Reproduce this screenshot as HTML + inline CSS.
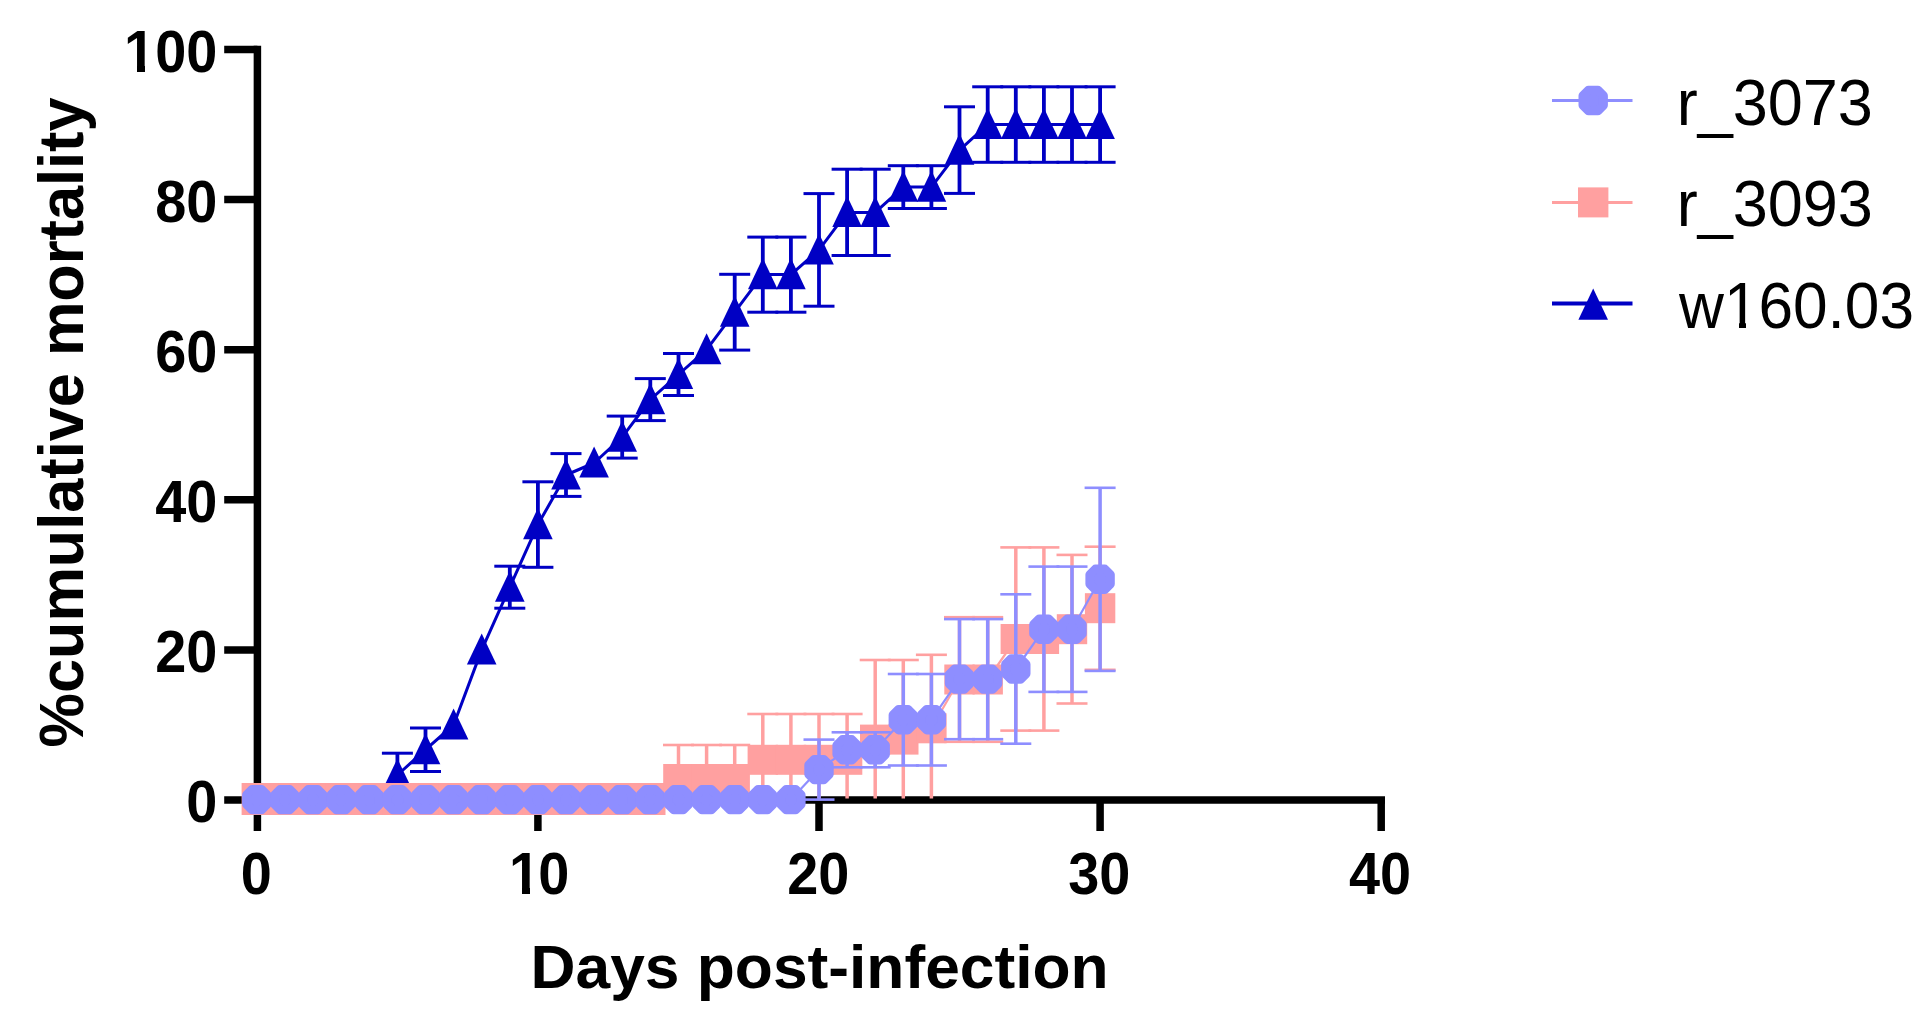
<!DOCTYPE html>
<html><head><meta charset="utf-8"><title>Cumulative mortality</title>
<style>html,body{margin:0;padding:0;background:#fff;}body{width:1932px;height:1020px;overflow:hidden;}svg{display:block;filter:blur(0.55px);}text{font-family:"Liberation Sans",Arial,Helvetica,sans-serif;fill:#000;}.b{font-weight:bold;font-size:60px;}.t{font-weight:bold;font-size:59.6px;}.lg{font-size:64px;}</style></head><body>
<svg width="1932" height="1020" viewBox="0 0 1932 1020">
<rect width="1932" height="1020" fill="#fff"/>
<g stroke="#000" stroke-width="7.5" fill="none">
<line x1="257.4" y1="45.75" x2="257.4" y2="831"/>
<line x1="224.2" y1="800.0" x2="1385" y2="800.0"/>
<line x1="224.2" y1="649.90" x2="257.4" y2="649.90"/>
<line x1="224.2" y1="499.80" x2="257.4" y2="499.80"/>
<line x1="224.2" y1="349.70" x2="257.4" y2="349.70"/>
<line x1="224.2" y1="199.60" x2="257.4" y2="199.60"/>
<line x1="224.2" y1="49.50" x2="257.4" y2="49.50"/>
<line x1="537.90" y1="800.0" x2="537.90" y2="831"/>
<line x1="819.00" y1="800.0" x2="819.00" y2="831"/>
<line x1="1100.10" y1="800.0" x2="1100.10" y2="831"/>
<line x1="1381.20" y1="800.0" x2="1381.20" y2="831"/>
</g>
<text class="t" transform="translate(217.3 822.0) scale(0.937 1)" text-anchor="end">0</text>
<text class="t" transform="translate(217.3 671.9) scale(0.937 1)" text-anchor="end">20</text>
<text class="t" transform="translate(217.3 521.8) scale(0.937 1)" text-anchor="end">40</text>
<text class="t" transform="translate(217.3 371.7) scale(0.937 1)" text-anchor="end">60</text>
<text class="t" transform="translate(217.3 221.6) scale(0.937 1)" text-anchor="end">80</text>
<text class="t" transform="translate(217.3 71.5) scale(0.937 1)" text-anchor="end">100</text>
<text class="t" transform="translate(256.4 894.4) scale(0.937 1)" text-anchor="middle">0</text>
<text class="t" transform="translate(537.3 894.4) scale(0.937 1)" text-anchor="middle"><tspan dx="2">1</tspan><tspan dx="-2">0</tspan></text>
<text class="t" transform="translate(818.2 894.4) scale(0.937 1)" text-anchor="middle">20</text>
<text class="t" transform="translate(1099.2 894.4) scale(0.937 1)" text-anchor="middle">30</text>
<text class="t" transform="translate(1380.0 894.4) scale(0.937 1)" text-anchor="middle">40</text>
<text class="b" style="font-size:62px" x="819.6" y="988" text-anchor="middle" textLength="578" lengthAdjust="spacingAndGlyphs">Days post-infection</text>
<text class="b" style="font-size:63px" transform="translate(82.7 422.5) rotate(-90)" text-anchor="middle" textLength="650" lengthAdjust="spacingAndGlyphs">%cumulative mortality</text>
<g stroke="#0000c4" fill="none">
<polyline points="397.4,775.0 425.5,749.7 453.6,725.0 481.7,649.9 509.8,587.2 537.9,524.6 566.0,475.0 594.1,463.0 622.2,437.1 650.3,399.6 678.5,374.5 706.6,349.7 734.7,312.2 762.8,274.6 790.9,274.6 819.0,249.9 847.1,212.4 875.2,212.4 903.3,187.1 931.4,187.1 959.5,150.1 987.7,124.5 1015.8,124.5 1043.9,124.5 1072.0,124.5 1100.1,124.5" stroke-width="3" stroke-linejoin="round"/>
<line x1="397.4" y1="753.2" x2="397.4" y2="796.8" stroke-width="3.8"/>
<line x1="381.9" y1="753.2" x2="412.9" y2="753.2" stroke-width="3"/>
<line x1="381.9" y1="796.8" x2="412.9" y2="796.8" stroke-width="3"/>
<line x1="425.5" y1="728.0" x2="425.5" y2="771.5" stroke-width="3.8"/>
<line x1="410.0" y1="728.0" x2="441.0" y2="728.0" stroke-width="3"/>
<line x1="410.0" y1="771.5" x2="441.0" y2="771.5" stroke-width="3"/>
<line x1="509.8" y1="566.2" x2="509.8" y2="608.2" stroke-width="3.8"/>
<line x1="494.3" y1="566.2" x2="525.3" y2="566.2" stroke-width="3"/>
<line x1="494.3" y1="608.2" x2="525.3" y2="608.2" stroke-width="3"/>
<line x1="537.9" y1="481.8" x2="537.9" y2="567.3" stroke-width="3.8"/>
<line x1="522.4" y1="481.8" x2="553.4" y2="481.8" stroke-width="3"/>
<line x1="522.4" y1="567.3" x2="553.4" y2="567.3" stroke-width="3"/>
<line x1="566.0" y1="453.6" x2="566.0" y2="496.4" stroke-width="3.8"/>
<line x1="550.5" y1="453.6" x2="581.5" y2="453.6" stroke-width="3"/>
<line x1="550.5" y1="496.4" x2="581.5" y2="496.4" stroke-width="3"/>
<line x1="622.2" y1="416.1" x2="622.2" y2="458.1" stroke-width="3.8"/>
<line x1="606.7" y1="416.1" x2="637.7" y2="416.1" stroke-width="3"/>
<line x1="606.7" y1="458.1" x2="637.7" y2="458.1" stroke-width="3"/>
<line x1="650.3" y1="378.6" x2="650.3" y2="420.6" stroke-width="3.8"/>
<line x1="634.8" y1="378.6" x2="665.8" y2="378.6" stroke-width="3"/>
<line x1="634.8" y1="420.6" x2="665.8" y2="420.6" stroke-width="3"/>
<line x1="678.5" y1="353.5" x2="678.5" y2="395.5" stroke-width="3.8"/>
<line x1="663.0" y1="353.5" x2="694.0" y2="353.5" stroke-width="3"/>
<line x1="663.0" y1="395.5" x2="694.0" y2="395.5" stroke-width="3"/>
<line x1="734.7" y1="274.3" x2="734.7" y2="350.1" stroke-width="3.8"/>
<line x1="719.2" y1="274.3" x2="750.2" y2="274.3" stroke-width="3"/>
<line x1="719.2" y1="350.1" x2="750.2" y2="350.1" stroke-width="3"/>
<line x1="762.8" y1="237.1" x2="762.8" y2="312.2" stroke-width="3.8"/>
<line x1="747.3" y1="237.1" x2="778.3" y2="237.1" stroke-width="3"/>
<line x1="747.3" y1="312.2" x2="778.3" y2="312.2" stroke-width="3"/>
<line x1="790.9" y1="237.1" x2="790.9" y2="312.2" stroke-width="3.8"/>
<line x1="775.4" y1="237.1" x2="806.4" y2="237.1" stroke-width="3"/>
<line x1="775.4" y1="312.2" x2="806.4" y2="312.2" stroke-width="3"/>
<line x1="819.0" y1="193.6" x2="819.0" y2="306.2" stroke-width="3.8"/>
<line x1="803.5" y1="193.6" x2="834.5" y2="193.6" stroke-width="3"/>
<line x1="803.5" y1="306.2" x2="834.5" y2="306.2" stroke-width="3"/>
<line x1="847.1" y1="169.2" x2="847.1" y2="255.5" stroke-width="3.8"/>
<line x1="831.6" y1="169.2" x2="862.6" y2="169.2" stroke-width="3"/>
<line x1="831.6" y1="255.5" x2="862.6" y2="255.5" stroke-width="3"/>
<line x1="875.2" y1="169.2" x2="875.2" y2="255.5" stroke-width="3.8"/>
<line x1="859.7" y1="169.2" x2="890.7" y2="169.2" stroke-width="3"/>
<line x1="859.7" y1="255.5" x2="890.7" y2="255.5" stroke-width="3"/>
<line x1="903.3" y1="165.7" x2="903.3" y2="208.5" stroke-width="3.8"/>
<line x1="887.8" y1="165.7" x2="918.8" y2="165.7" stroke-width="3"/>
<line x1="887.8" y1="208.5" x2="918.8" y2="208.5" stroke-width="3"/>
<line x1="931.4" y1="165.7" x2="931.4" y2="208.5" stroke-width="3.8"/>
<line x1="915.9" y1="165.7" x2="946.9" y2="165.7" stroke-width="3"/>
<line x1="915.9" y1="208.5" x2="946.9" y2="208.5" stroke-width="3"/>
<line x1="959.5" y1="106.8" x2="959.5" y2="193.4" stroke-width="3.8"/>
<line x1="944.0" y1="106.8" x2="975.0" y2="106.8" stroke-width="3"/>
<line x1="944.0" y1="193.4" x2="975.0" y2="193.4" stroke-width="3"/>
<line x1="987.7" y1="86.8" x2="987.7" y2="162.3" stroke-width="3.8"/>
<line x1="972.2" y1="86.8" x2="1003.2" y2="86.8" stroke-width="3"/>
<line x1="972.2" y1="162.3" x2="1003.2" y2="162.3" stroke-width="3"/>
<line x1="1015.8" y1="86.8" x2="1015.8" y2="162.3" stroke-width="3.8"/>
<line x1="1000.3" y1="86.8" x2="1031.3" y2="86.8" stroke-width="3"/>
<line x1="1000.3" y1="162.3" x2="1031.3" y2="162.3" stroke-width="3"/>
<line x1="1043.9" y1="86.8" x2="1043.9" y2="162.3" stroke-width="3.8"/>
<line x1="1028.4" y1="86.8" x2="1059.4" y2="86.8" stroke-width="3"/>
<line x1="1028.4" y1="162.3" x2="1059.4" y2="162.3" stroke-width="3"/>
<line x1="1072.0" y1="86.8" x2="1072.0" y2="162.3" stroke-width="3.8"/>
<line x1="1056.5" y1="86.8" x2="1087.5" y2="86.8" stroke-width="3"/>
<line x1="1056.5" y1="162.3" x2="1087.5" y2="162.3" stroke-width="3"/>
<line x1="1100.1" y1="86.8" x2="1100.1" y2="162.3" stroke-width="3.8"/>
<line x1="1084.6" y1="86.8" x2="1115.6" y2="86.8" stroke-width="3"/>
<line x1="1084.6" y1="162.3" x2="1115.6" y2="162.3" stroke-width="3"/>
</g>
<g fill="#0000c4">
<path d="M397.4 758.5L412.2 789.6H382.6Z"/>
<path d="M425.5 733.2L440.3 764.3H410.7Z"/>
<path d="M453.6 708.5L468.4 739.6H438.8Z"/>
<path d="M481.7 633.4L496.5 664.5H466.9Z"/>
<path d="M509.8 570.7L524.6 601.8H495.0Z"/>
<path d="M537.9 508.1L552.7 539.2H523.1Z"/>
<path d="M566.0 458.5L580.8 489.6H551.2Z"/>
<path d="M594.1 446.5L608.9 477.6H579.3Z"/>
<path d="M622.2 420.6L637.0 451.7H607.4Z"/>
<path d="M650.3 383.1L665.1 414.2H635.5Z"/>
<path d="M678.5 358.0L693.2 389.1H663.7Z"/>
<path d="M706.6 333.2L721.4 364.3H691.8Z"/>
<path d="M734.7 295.7L749.5 326.8H719.9Z"/>
<path d="M762.8 258.1L777.6 289.2H748.0Z"/>
<path d="M790.9 258.1L805.7 289.2H776.1Z"/>
<path d="M819.0 233.4L833.8 264.5H804.2Z"/>
<path d="M847.1 195.9L861.9 227.0H832.3Z"/>
<path d="M875.2 195.9L890.0 227.0H860.4Z"/>
<path d="M903.3 170.6L918.1 201.7H888.5Z"/>
<path d="M931.4 170.6L946.2 201.7H916.6Z"/>
<path d="M959.5 133.6L974.3 164.7H944.8Z"/>
<path d="M987.7 108.0L1002.5 139.1H972.9Z"/>
<path d="M1015.8 108.0L1030.6 139.1H1001.0Z"/>
<path d="M1043.9 108.0L1058.7 139.1H1029.1Z"/>
<path d="M1072.0 108.0L1086.8 139.1H1057.2Z"/>
<path d="M1100.1 108.0L1114.9 139.1H1085.3Z"/>
</g>
<g stroke="#ffa0a0" fill="none">
<polyline points="256.8,799.6 284.9,799.6 313.0,799.6 341.1,799.6 369.2,799.6 397.4,799.6 425.5,799.6 453.6,799.6 481.7,799.6 509.8,799.6 537.9,799.6 566.0,799.6 594.1,799.6 622.2,799.6 650.3,799.6 678.5,779.0 706.6,779.0 734.7,779.0 762.8,759.8 790.9,759.8 819.0,759.8 847.1,759.8 875.2,739.6 903.3,739.6 931.4,728.3 959.5,679.5 987.7,679.5 1015.8,639.0 1043.9,639.0 1072.0,629.2 1100.1,608.2" stroke-width="2.2" stroke-linejoin="round"/>
<line x1="678.5" y1="745.0" x2="678.5" y2="798.5" stroke-width="3.5"/>
<line x1="663.0" y1="745.0" x2="694.0" y2="745.0" stroke-width="2.6"/>
<line x1="706.6" y1="745.0" x2="706.6" y2="798.5" stroke-width="3.5"/>
<line x1="691.1" y1="745.0" x2="722.1" y2="745.0" stroke-width="2.6"/>
<line x1="734.7" y1="745.0" x2="734.7" y2="798.5" stroke-width="3.5"/>
<line x1="719.2" y1="745.0" x2="750.2" y2="745.0" stroke-width="2.6"/>
<line x1="762.8" y1="714.0" x2="762.8" y2="798.5" stroke-width="3.5"/>
<line x1="747.3" y1="714.0" x2="778.3" y2="714.0" stroke-width="2.6"/>
<line x1="790.9" y1="714.0" x2="790.9" y2="798.5" stroke-width="3.5"/>
<line x1="775.4" y1="714.0" x2="806.4" y2="714.0" stroke-width="2.6"/>
<line x1="819.0" y1="714.0" x2="819.0" y2="798.5" stroke-width="3.5"/>
<line x1="803.5" y1="714.0" x2="834.5" y2="714.0" stroke-width="2.6"/>
<line x1="847.1" y1="714.0" x2="847.1" y2="798.5" stroke-width="3.5"/>
<line x1="831.6" y1="714.0" x2="862.6" y2="714.0" stroke-width="2.6"/>
<line x1="875.2" y1="660.0" x2="875.2" y2="798.5" stroke-width="3.5"/>
<line x1="859.7" y1="660.0" x2="890.7" y2="660.0" stroke-width="2.6"/>
<line x1="903.3" y1="660.0" x2="903.3" y2="798.5" stroke-width="3.5"/>
<line x1="887.8" y1="660.0" x2="918.8" y2="660.0" stroke-width="2.6"/>
<line x1="931.4" y1="654.8" x2="931.4" y2="798.5" stroke-width="3.5"/>
<line x1="915.9" y1="654.8" x2="946.9" y2="654.8" stroke-width="2.6"/>
<line x1="959.5" y1="617.2" x2="959.5" y2="741.8" stroke-width="3.5"/>
<line x1="944.0" y1="617.2" x2="975.0" y2="617.2" stroke-width="2.6"/>
<line x1="944.0" y1="741.8" x2="975.0" y2="741.8" stroke-width="2.6"/>
<line x1="987.7" y1="617.2" x2="987.7" y2="741.8" stroke-width="3.5"/>
<line x1="972.2" y1="617.2" x2="1003.2" y2="617.2" stroke-width="2.6"/>
<line x1="972.2" y1="741.8" x2="1003.2" y2="741.8" stroke-width="2.6"/>
<line x1="1015.8" y1="547.4" x2="1015.8" y2="730.6" stroke-width="3.5"/>
<line x1="1000.3" y1="547.4" x2="1031.3" y2="547.4" stroke-width="2.6"/>
<line x1="1000.3" y1="730.6" x2="1031.3" y2="730.6" stroke-width="2.6"/>
<line x1="1043.9" y1="547.4" x2="1043.9" y2="730.6" stroke-width="3.5"/>
<line x1="1028.4" y1="547.4" x2="1059.4" y2="547.4" stroke-width="2.6"/>
<line x1="1028.4" y1="730.6" x2="1059.4" y2="730.6" stroke-width="2.6"/>
<line x1="1072.0" y1="554.9" x2="1072.0" y2="703.5" stroke-width="3.5"/>
<line x1="1056.5" y1="554.9" x2="1087.5" y2="554.9" stroke-width="2.6"/>
<line x1="1056.5" y1="703.5" x2="1087.5" y2="703.5" stroke-width="2.6"/>
<line x1="1100.1" y1="546.7" x2="1100.1" y2="669.8" stroke-width="3.5"/>
<line x1="1084.6" y1="546.7" x2="1115.6" y2="546.7" stroke-width="2.6"/>
<line x1="1084.6" y1="669.8" x2="1115.6" y2="669.8" stroke-width="2.6"/>
</g>
<g fill="#ffa0a0">
<rect x="241.6" y="783" width="30.4" height="32"/>
<rect x="269.7" y="783" width="30.4" height="32"/>
<rect x="297.8" y="783" width="30.4" height="32"/>
<rect x="325.9" y="783" width="30.4" height="32"/>
<rect x="354.0" y="783" width="30.4" height="32"/>
<rect x="382.2" y="783" width="30.4" height="32"/>
<rect x="410.3" y="783" width="30.4" height="32"/>
<rect x="438.4" y="783" width="30.4" height="32"/>
<rect x="466.5" y="783" width="30.4" height="32"/>
<rect x="494.6" y="783" width="30.4" height="32"/>
<rect x="522.7" y="783" width="30.4" height="32"/>
<rect x="550.8" y="783" width="30.4" height="32"/>
<rect x="578.9" y="783" width="30.4" height="32"/>
<rect x="607.0" y="783" width="30.4" height="32"/>
<rect x="635.1" y="783" width="30.4" height="32"/>
<rect x="663.2" y="764.0" width="30.4" height="30"/>
<rect x="691.4" y="764.0" width="30.4" height="30"/>
<rect x="719.5" y="764.0" width="30.4" height="30"/>
<rect x="747.6" y="744.8" width="30.4" height="30"/>
<rect x="775.7" y="744.8" width="30.4" height="30"/>
<rect x="803.8" y="744.8" width="30.4" height="30"/>
<rect x="831.9" y="744.8" width="30.4" height="30"/>
<rect x="860.0" y="724.6" width="30.4" height="30"/>
<rect x="888.1" y="724.6" width="30.4" height="30"/>
<rect x="916.2" y="713.3" width="30.4" height="30"/>
<rect x="944.3" y="664.5" width="30.4" height="30"/>
<rect x="972.5" y="664.5" width="30.4" height="30"/>
<rect x="1000.6" y="624.0" width="30.4" height="30"/>
<rect x="1028.7" y="624.0" width="30.4" height="30"/>
<rect x="1056.8" y="614.2" width="30.4" height="30"/>
<rect x="1084.9" y="593.2" width="30.4" height="30"/>
</g>
<g stroke="#8e8eff" fill="none">
<polyline points="256.8,799.6 284.9,799.6 313.0,799.6 341.1,799.6 369.2,799.6 397.4,799.6 425.5,799.6 453.6,799.6 481.7,799.6 509.8,799.6 537.9,799.6 566.0,799.6 594.1,799.6 622.2,799.6 650.3,799.6 678.5,799.6 706.6,799.6 734.7,799.6 762.8,799.6 790.9,799.6 819.0,769.6 847.1,749.8 875.2,749.8 903.3,719.7 931.4,719.7 959.5,679.1 987.7,679.1 1015.8,669.0 1043.9,629.2 1072.0,629.2 1100.1,579.3" stroke-width="2.2" stroke-linejoin="round"/>
<line x1="819.0" y1="739.6" x2="819.0" y2="799.6" stroke-width="3.5"/>
<line x1="803.5" y1="739.6" x2="834.5" y2="739.6" stroke-width="2.6"/>
<line x1="803.5" y1="799.6" x2="834.5" y2="799.6" stroke-width="2.6"/>
<line x1="847.1" y1="732.3" x2="847.1" y2="767.3" stroke-width="3.5"/>
<line x1="831.6" y1="732.3" x2="862.6" y2="732.3" stroke-width="2.6"/>
<line x1="831.6" y1="767.3" x2="862.6" y2="767.3" stroke-width="2.6"/>
<line x1="875.2" y1="732.3" x2="875.2" y2="767.3" stroke-width="3.5"/>
<line x1="859.7" y1="732.3" x2="890.7" y2="732.3" stroke-width="2.6"/>
<line x1="859.7" y1="767.3" x2="890.7" y2="767.3" stroke-width="2.6"/>
<line x1="903.3" y1="674.0" x2="903.3" y2="765.5" stroke-width="3.5"/>
<line x1="887.8" y1="674.0" x2="918.8" y2="674.0" stroke-width="2.6"/>
<line x1="887.8" y1="765.5" x2="918.8" y2="765.5" stroke-width="2.6"/>
<line x1="931.4" y1="674.0" x2="931.4" y2="765.5" stroke-width="3.5"/>
<line x1="915.9" y1="674.0" x2="946.9" y2="674.0" stroke-width="2.6"/>
<line x1="915.9" y1="765.5" x2="946.9" y2="765.5" stroke-width="2.6"/>
<line x1="959.5" y1="619.1" x2="959.5" y2="739.2" stroke-width="3.5"/>
<line x1="944.0" y1="619.1" x2="975.0" y2="619.1" stroke-width="2.6"/>
<line x1="944.0" y1="739.2" x2="975.0" y2="739.2" stroke-width="2.6"/>
<line x1="987.7" y1="619.1" x2="987.7" y2="739.2" stroke-width="3.5"/>
<line x1="972.2" y1="619.1" x2="1003.2" y2="619.1" stroke-width="2.6"/>
<line x1="972.2" y1="739.2" x2="1003.2" y2="739.2" stroke-width="2.6"/>
<line x1="1015.8" y1="594.3" x2="1015.8" y2="743.7" stroke-width="3.5"/>
<line x1="1000.3" y1="594.3" x2="1031.3" y2="594.3" stroke-width="2.6"/>
<line x1="1000.3" y1="743.7" x2="1031.3" y2="743.7" stroke-width="2.6"/>
<line x1="1043.9" y1="566.6" x2="1043.9" y2="691.9" stroke-width="3.5"/>
<line x1="1028.4" y1="566.6" x2="1059.4" y2="566.6" stroke-width="2.6"/>
<line x1="1028.4" y1="691.9" x2="1059.4" y2="691.9" stroke-width="2.6"/>
<line x1="1072.0" y1="566.6" x2="1072.0" y2="691.9" stroke-width="3.5"/>
<line x1="1056.5" y1="566.6" x2="1087.5" y2="566.6" stroke-width="2.6"/>
<line x1="1056.5" y1="691.9" x2="1087.5" y2="691.9" stroke-width="2.6"/>
<line x1="1100.1" y1="487.8" x2="1100.1" y2="670.9" stroke-width="3.5"/>
<line x1="1084.6" y1="487.8" x2="1115.6" y2="487.8" stroke-width="2.6"/>
<line x1="1084.6" y1="670.9" x2="1115.6" y2="670.9" stroke-width="2.6"/>
</g>
<g fill="#8e8eff">
<path d="M252.1 789.4H261.5L267.0 794.9V804.3L261.5 809.8H252.1L246.6 804.3V794.9Z" stroke="#8e8eff" stroke-width="9" stroke-linejoin="round"/>
<path d="M280.2 789.4H289.6L295.1 794.9V804.3L289.6 809.8H280.2L274.7 804.3V794.9Z" stroke="#8e8eff" stroke-width="9" stroke-linejoin="round"/>
<path d="M308.3 789.4H317.7L323.2 794.9V804.3L317.7 809.8H308.3L302.8 804.3V794.9Z" stroke="#8e8eff" stroke-width="9" stroke-linejoin="round"/>
<path d="M336.4 789.4H345.8L351.3 794.9V804.3L345.8 809.8H336.4L330.9 804.3V794.9Z" stroke="#8e8eff" stroke-width="9" stroke-linejoin="round"/>
<path d="M364.5 789.4H373.9L379.4 794.9V804.3L373.9 809.8H364.5L359.0 804.3V794.9Z" stroke="#8e8eff" stroke-width="9" stroke-linejoin="round"/>
<path d="M392.7 789.4H402.1L407.6 794.9V804.3L402.1 809.8H392.7L387.2 804.3V794.9Z" stroke="#8e8eff" stroke-width="9" stroke-linejoin="round"/>
<path d="M420.8 789.4H430.2L435.7 794.9V804.3L430.2 809.8H420.8L415.3 804.3V794.9Z" stroke="#8e8eff" stroke-width="9" stroke-linejoin="round"/>
<path d="M448.9 789.4H458.3L463.8 794.9V804.3L458.3 809.8H448.9L443.4 804.3V794.9Z" stroke="#8e8eff" stroke-width="9" stroke-linejoin="round"/>
<path d="M477.0 789.4H486.4L491.9 794.9V804.3L486.4 809.8H477.0L471.5 804.3V794.9Z" stroke="#8e8eff" stroke-width="9" stroke-linejoin="round"/>
<path d="M505.1 789.4H514.5L520.0 794.9V804.3L514.5 809.8H505.1L499.6 804.3V794.9Z" stroke="#8e8eff" stroke-width="9" stroke-linejoin="round"/>
<path d="M533.2 789.4H542.6L548.1 794.9V804.3L542.6 809.8H533.2L527.7 804.3V794.9Z" stroke="#8e8eff" stroke-width="9" stroke-linejoin="round"/>
<path d="M561.3 789.4H570.7L576.2 794.9V804.3L570.7 809.8H561.3L555.8 804.3V794.9Z" stroke="#8e8eff" stroke-width="9" stroke-linejoin="round"/>
<path d="M589.4 789.4H598.8L604.3 794.9V804.3L598.8 809.8H589.4L583.9 804.3V794.9Z" stroke="#8e8eff" stroke-width="9" stroke-linejoin="round"/>
<path d="M617.5 789.4H626.9L632.4 794.9V804.3L626.9 809.8H617.5L612.0 804.3V794.9Z" stroke="#8e8eff" stroke-width="9" stroke-linejoin="round"/>
<path d="M645.6 789.4H655.0L660.5 794.9V804.3L655.0 809.8H645.6L640.1 804.3V794.9Z" stroke="#8e8eff" stroke-width="9" stroke-linejoin="round"/>
<path d="M673.8 789.4H683.2L688.7 794.9V804.3L683.2 809.8H673.8L668.2 804.3V794.9Z" stroke="#8e8eff" stroke-width="9" stroke-linejoin="round"/>
<path d="M701.9 789.4H711.3L716.8 794.9V804.3L711.3 809.8H701.9L696.4 804.3V794.9Z" stroke="#8e8eff" stroke-width="9" stroke-linejoin="round"/>
<path d="M730.0 789.4H739.4L744.9 794.9V804.3L739.4 809.8H730.0L724.5 804.3V794.9Z" stroke="#8e8eff" stroke-width="9" stroke-linejoin="round"/>
<path d="M758.1 789.4H767.5L773.0 794.9V804.3L767.5 809.8H758.1L752.6 804.3V794.9Z" stroke="#8e8eff" stroke-width="9" stroke-linejoin="round"/>
<path d="M786.2 789.4H795.6L801.1 794.9V804.3L795.6 809.8H786.2L780.7 804.3V794.9Z" stroke="#8e8eff" stroke-width="9" stroke-linejoin="round"/>
<path d="M814.3 759.4H823.7L829.2 764.9V774.3L823.7 779.8H814.3L808.8 774.3V764.9Z" stroke="#8e8eff" stroke-width="9" stroke-linejoin="round"/>
<path d="M842.4 739.6H851.8L857.3 745.1V754.5L851.8 760.0H842.4L836.9 754.5V745.1Z" stroke="#8e8eff" stroke-width="9" stroke-linejoin="round"/>
<path d="M870.5 739.6H879.9L885.4 745.1V754.5L879.9 760.0H870.5L865.0 754.5V745.1Z" stroke="#8e8eff" stroke-width="9" stroke-linejoin="round"/>
<path d="M898.6 709.5H908.0L913.5 715.0V724.4L908.0 729.9H898.6L893.1 724.4V715.0Z" stroke="#8e8eff" stroke-width="9" stroke-linejoin="round"/>
<path d="M926.7 709.5H936.1L941.6 715.0V724.4L936.1 729.9H926.7L921.2 724.4V715.0Z" stroke="#8e8eff" stroke-width="9" stroke-linejoin="round"/>
<path d="M954.8 668.9H964.2L969.8 674.4V683.8L964.2 689.3H954.8L949.3 683.8V674.4Z" stroke="#8e8eff" stroke-width="9" stroke-linejoin="round"/>
<path d="M983.0 668.9H992.4L997.9 674.4V683.8L992.4 689.3H983.0L977.5 683.8V674.4Z" stroke="#8e8eff" stroke-width="9" stroke-linejoin="round"/>
<path d="M1011.1 658.8H1020.5L1026.0 664.3V673.7L1020.5 679.2H1011.1L1005.6 673.7V664.3Z" stroke="#8e8eff" stroke-width="9" stroke-linejoin="round"/>
<path d="M1039.2 619.0H1048.6L1054.1 624.5V633.9L1048.6 639.4H1039.2L1033.7 633.9V624.5Z" stroke="#8e8eff" stroke-width="9" stroke-linejoin="round"/>
<path d="M1067.3 619.0H1076.7L1082.2 624.5V633.9L1076.7 639.4H1067.3L1061.8 633.9V624.5Z" stroke="#8e8eff" stroke-width="9" stroke-linejoin="round"/>
<path d="M1095.4 569.1H1104.8L1110.3 574.6V584.0L1104.8 589.5H1095.4L1089.9 584.0V574.6Z" stroke="#8e8eff" stroke-width="9" stroke-linejoin="round"/>
</g>
<line x1="1552" y1="100.5" x2="1632.5" y2="100.5" stroke="#8e8eff" stroke-width="3"/>
<g fill="#8e8eff"><path d="M1588.5 90.3H1597.9L1603.4 95.8V105.2L1597.9 110.7H1588.5L1583.0 105.2V95.8Z" stroke="#8e8eff" stroke-width="9" stroke-linejoin="round"/></g>
<text class="lg" x="1676.7" y="124.7" textLength="196.2" lengthAdjust="spacingAndGlyphs">r_3073</text>
<line x1="1552" y1="202.4" x2="1632.5" y2="202.4" stroke="#ffa0a0" stroke-width="3"/>
<g fill="#ffa0a0"><rect x="1578.0" y="187.4" width="30.4" height="30"/></g>
<text class="lg" x="1676.7" y="225.6" textLength="196.2" lengthAdjust="spacingAndGlyphs">r_3093</text>
<line x1="1552" y1="303.5" x2="1632.5" y2="303.5" stroke="#0000c4" stroke-width="4"/>
<g fill="#0000c4"><path d="M1593.2 288.6L1608.0 319.7H1578.4Z"/></g>
<text class="lg" x="1679" y="328" textLength="235" lengthAdjust="spacingAndGlyphs">w160.03</text>
<g fill="#fff">
<rect x="125.5" y="66" width="11.5" height="7"/>
<rect x="145" y="66" width="10" height="7"/>
<rect x="510.5" y="888" width="11.5" height="7"/>
<rect x="530" y="888" width="11" height="7"/>
<rect x="1726.5" y="323" width="12.5" height="6"/>
<rect x="1746" y="323" width="11" height="6"/>
</g>
</svg></body></html>
